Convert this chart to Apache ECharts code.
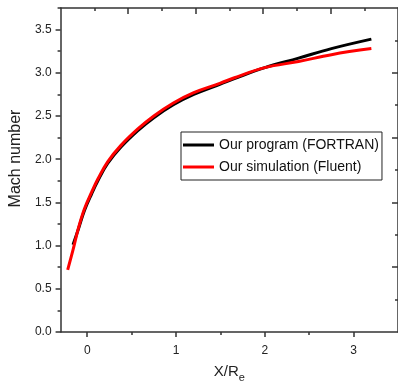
<!DOCTYPE html>
<html>
<head>
<meta charset="utf-8">
<script src="https://cdn.jsdelivr.net/npm/echarts@6/dist/echarts.min.js"></script>
<style>html,body{margin:0;padding:0;background:#fff}#c{width:398px;height:388px}</style>
</head>
<body>
<div id="c"></div>
<script>
// Our program (FORTRAN)
var progX    = [-0.16, -0.10, -0.03, 0.05, 0.12, 0.23, 0.38, 0.57, 0.75, 0.97, 1.20, 1.50, 1.65, 2.00, 2.38, 2.75, 3.20];
var progMach = [ 1.01,  1.19,  1.41, 1.60, 1.75, 1.95, 2.14, 2.33, 2.48, 2.63, 2.75, 2.87, 2.93, 3.06, 3.17, 3.28, 3.39];
// Our simulation (Fluent)
var simX     = [-0.22, -0.16, -0.10, -0.03, 0.05, 0.12, 0.23, 0.38, 0.57, 0.75, 0.97, 1.20, 1.50, 1.65, 2.00, 2.38, 2.75, 3.20];
var simMach  = [ 0.72,  0.95,  1.20,  1.43, 1.62, 1.77, 1.97, 2.16, 2.35, 2.50, 2.65, 2.77, 2.88, 2.94, 3.06, 3.13, 3.21, 3.28];

var xTickLabels = [0, 1, 2, 3];
var xMinorTicks = [0.5, 1.5, 2.5];
var yTickLabels = [0, 0.5, 1.0, 1.5, 2.0, 2.5, 3.0, 3.5];
var yMinorTicks = [0.25, 0.75, 1.25, 1.75, 2.25, 2.75, 3.25, 3.75];
var topMajor = [2, 4, 6, 8];
var topMinor = [1, 3, 5, 7, 9];
var rightMajor = [1, 2, 3, 4];
var rightMinor = [0.5, 1.5, 2.5, 3.5, 4.5];

var seriesNames = ['Our program (FORTRAN)', 'Our simulation (Fluent)'];

function pairs(xs, ys) { return xs.map(function (x, i) { return [x, ys[i]]; }); }

var FONT = 'Liberation Sans, Arial, sans-serif';
var AX = '#333';
var lineStyle = { color: AX, width: 1.5 };
var hiddenLine = { show: false, onZero: false };

var chart = echarts.init(document.getElementById('c'), null, { renderer: 'canvas' });
chart.setOption({
  animation: false,
  backgroundColor: '#fff',
  grid: { left: 59.3, right: -2, top: 8, bottom: 53, containLabel: false },
  legend: {
    orient: 'vertical',
    left: 181, top: 132,
    padding: [6, 3, 6, 2],
    itemGap: 8,
    itemWidth: 31, itemHeight: 3,
    icon: 'rect',
    borderColor: '#222', borderWidth: 1,
    backgroundColor: '#fff',
    textStyle: { fontFamily: FONT, fontSize: 14, color: '#111' },
    data: seriesNames
  },
  xAxis: [
    {
      type: 'value', position: 'bottom', min: -0.3, max: 3.5,
      name: '{a|X/R}{b|e}', nameLocation: 'middle', nameGap: 29,
      nameTextStyle: {
        fontFamily: FONT, color: '#222',
        rich: {
          a: { fontFamily: FONT, fontSize: 15, color: '#222', lineHeight: 22, verticalAlign: 'middle' },
          b: { fontFamily: FONT, fontSize: 11, color: '#222', lineHeight: 22, verticalAlign: 'bottom' }
        }
      },
      axisLine: { show: true, onZero: false, lineStyle: lineStyle },
      axisTick: { show: true, inside: false, length: 5, lineStyle: lineStyle, customValues: xTickLabels },
      axisLabel: { show: true, margin: 13, fontFamily: FONT, fontSize: 12, color: '#222', customValues: xTickLabels },
      splitLine: { show: false }
    },
    {
      type: 'value', position: 'bottom', min: -0.3, max: 3.5,
      axisLine: hiddenLine,
      axisTick: { show: true, inside: false, length: 3, lineStyle: lineStyle, customValues: xMinorTicks },
      axisLabel: { show: false },
      splitLine: { show: false }
    },
    {
      type: 'value', position: 'top', min: 0, max: 10,
      axisLine: { show: true, onZero: false, lineStyle: lineStyle },
      axisTick: { show: true, inside: true, length: 6, lineStyle: lineStyle, customValues: topMajor },
      axisLabel: { show: false },
      splitLine: { show: false }
    },
    {
      type: 'value', position: 'top', min: 0, max: 10,
      axisLine: hiddenLine,
      axisTick: { show: true, inside: true, length: 3, lineStyle: lineStyle, customValues: topMinor },
      axisLabel: { show: false },
      splitLine: { show: false }
    }
  ],
  yAxis: [
    {
      type: 'value', position: 'left', min: 0, max: 3.75,
      name: 'Mach number', nameLocation: 'middle', nameGap: 36, nameRotate: 90,
      nameTextStyle: { fontFamily: FONT, fontSize: 16, color: '#222', padding: [0, 0, 0, 23] },
      axisLine: { show: true, onZero: false, lineStyle: lineStyle },
      axisTick: { show: true, inside: false, length: 5, lineStyle: lineStyle, customValues: yTickLabels },
      axisLabel: {
        show: true, margin: 9, fontFamily: FONT, fontSize: 12, color: '#222', customValues: yTickLabels,
        formatter: function (v) { return Number(v).toFixed(1); }
      },
      splitLine: { show: false }
    },
    {
      type: 'value', position: 'left', min: 0, max: 3.75,
      axisLine: hiddenLine,
      axisTick: { show: true, inside: false, length: 3, lineStyle: lineStyle, customValues: yMinorTicks },
      axisLabel: { show: false },
      splitLine: { show: false }
    },
    {
      type: 'value', position: 'right', min: 0, max: 5,
      axisLine: { show: true, onZero: false, lineStyle: lineStyle },
      axisTick: { show: true, inside: true, length: 6, lineStyle: lineStyle, customValues: rightMajor },
      axisLabel: { show: false },
      splitLine: { show: false }
    },
    {
      type: 'value', position: 'right', min: 0, max: 5,
      axisLine: hiddenLine,
      axisTick: { show: true, inside: true, length: 3, lineStyle: lineStyle, customValues: rightMinor },
      axisLabel: { show: false },
      splitLine: { show: false }
    }
  ],
  series: [
    {
      name: seriesNames[0], type: 'line', xAxisIndex: 0, yAxisIndex: 0,
      data: pairs(progX, progMach), smooth: 0.4, showSymbol: false, symbol: 'none',
      color: '#000', lineStyle: { color: '#000', width: 3 }
    },
    {
      name: seriesNames[1], type: 'line', xAxisIndex: 0, yAxisIndex: 0,
      data: pairs(simX, simMach), smooth: 0.4, showSymbol: false, symbol: 'none',
      color: '#ff0000', lineStyle: { color: '#ff0000', width: 3 }
    }
  ]
});
</script>
</body>
</html>
